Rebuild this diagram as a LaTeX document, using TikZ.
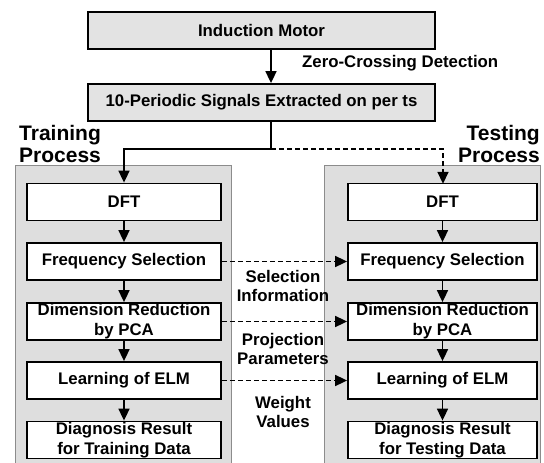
\documentclass[tikz,border=0pt]{standalone}
\usepackage{fontspec}
\setmainfont{Liberation Sans}
\usetikzlibrary{arrows.meta}
\begin{document}
\begin{tikzpicture}[x=1pt,y=-1pt,
  every node/.style={font=\fontsize{16.8}{20}\selectfont\bfseries, inner sep=0pt, align=center},
  topbox/.style={draw=black, line width=1.8pt, fill=black!11, minimum width=347pt, minimum height=37pt},
  procbox/.style={draw=black, line width=1.8pt, fill=white, minimum height=37pt},
  lbox/.style={procbox, minimum width=194pt},
  rbox/.style={procbox, minimum width=189pt},
  arr/.style={line width=1.7pt, -{Triangle[length=12pt,width=11pt]}},
  darr/.style={arr, dashed, dash pattern=on 5pt off 3pt},
  lbl/.style={font=\fontsize{16.8}{18.5}\selectfont\bfseries},
  big/.style={font=\fontsize{21}{22}\selectfont\bfseries}
]
\useasboundingbox (0,0) rectangle (544,463);
% panels
\fill[black!13] (15,165) rectangle (231,470);
\draw[black!45, line width=0.8pt] (15,470) -- (15,165) -- (231,165) -- (231,470);
\fill[black!13] (324,165) rectangle (540,470);
\draw[black!45, line width=0.8pt] (324,470) -- (324,165) -- (540,165) -- (540,470);

\node[topbox] (motor) at (261.5,30.5) {Induction Motor};
\node[topbox] (sig) at (261.5,102.5) {10-Periodic Signals Extracted on per ts};
\node[lbl, anchor=west] (zc) at (302,63) {Zero-Crossing Detection};

\node[big, anchor=west, align=left] (train) at (19,144) {Training\\Process};
\node[big, anchor=east, align=right] (test) at (540,144) {Testing\\Process};

\node[lbox] (ldft) at (124,202) {DFT};
\node[lbox] (lfs) at (124,261.5) {Frequency Selection};
\node[lbox] (ldr) at (124,321.5) {Dimension Reduction\\by PCA};
\node[lbox] (lelm) at (124,380.5) {Learning of ELM};
\node[lbox] (ldg) at (124,440) {Diagnosis Result\\for Training Data};

\node[rbox] (rdft) at (442.5,202) {DFT};
\node[rbox] (rfs) at (442.5,261.5) {Frequency Selection};
\node[rbox] (rdr) at (442.5,321.5) {Dimension Reduction\\by PCA};
\node[rbox] (relm) at (442.5,380.5) {Learning of ELM};
\node[rbox] (rdg) at (442.5,440) {Diagnosis Result\\for Testing Data};

\node[lbl] (selinfo) at (283,286) {Selection\\Information};
\node[lbl] (projpar) at (283,349) {Projection\\Parameters};
\node[lbl] (wv) at (283,412) {Weight\\Values};

\coordinate (sigout) at (271,121);
\coordinate (split) at (271,149);
\draw[arr] (motor.south -| sigout) -- (sig.north -| sigout);
\draw[line width=1.7pt] (sig.south -| sigout) -- (split);
\draw[arr] (split) -| (ldft.north);
\draw[darr] (split) -| (443,183.8);

\foreach \a/\b in {ldft/lfs, lfs/ldr, ldr/lelm, lelm/ldg, rdft/rfs, rfs/rdr, rdr/relm, relm/rdg}
  \draw[arr] (\a.south) -- (\b.north);
\foreach \a/\b in {lfs/rfs, ldr/rdr, lelm/relm}
  \draw[darr] (\a.east) -- (\b.west);
\end{tikzpicture}
\end{document}
